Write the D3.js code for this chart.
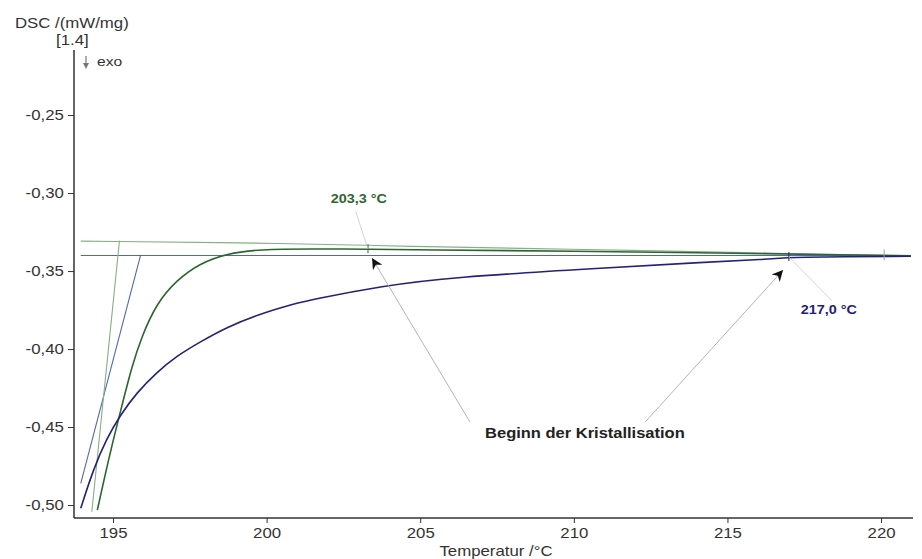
<!DOCTYPE html>
<html>
<head>
<meta charset="utf-8">
<script src="https://cdn.jsdelivr.net/npm/d3@7/dist/d3.min.js"></script>
<style>
  body { margin: 0; background: #fff; }
  svg { display: block; font-family: 'Liberation Sans', Arial, sans-serif; }
</style>
</head>
<body>
<div id="chart"></div>
<script>
const WIDTH = 922;
const HEIGHT = 559;
const STRETCH = 1.2; // the scan's text is wider than normal

// DSC curves (Temperatur / °C, DSC / (mW/mg))
const tempGreen = [194.49, 194.90, 195.28, 195.61, 195.93, 196.42, 197.07, 197.83, 198.70, 199.78, 201.41, 203.3, 205, 210, 215, 218, 220.97];
const dscGreen = [-0.5032, -0.4667, -0.4370, -0.4114, -0.3921, -0.3707, -0.3558, -0.3451, -0.3387, -0.3361, -0.3357, -0.3360, -0.3364, -0.3372, -0.3385, -0.3394, -0.3402];
const tempBlue = [193.95, 194.36, 194.79, 195.23, 195.77, 196.42, 197.07, 197.83, 198.70, 199.78, 200.87, 201.41, 203.79, 205.97, 210.85, 214.11, 216.28, 217.04, 220.97];
const dscBlue = [-0.5021, -0.4770, -0.4575, -0.4425, -0.4280, -0.4150, -0.4045, -0.3955, -0.3860, -0.3775, -0.3712, -0.3685, -0.3595, -0.3540, -0.3482, -0.3445, -0.3425, -0.3410, -0.3405];

// baselines and tangents
const tempBaseGreen = [193.95, 201.0, 204.4, 210, 215, 220.97];
const dscBaseGreen = [-0.3308, -0.3322, -0.3342, -0.3360, -0.3380, -0.3402];
const tempBaseBlue = [193.95, 220.97];
const dscBaseBlue = [-0.3400, -0.3400];
const tempTanGreen = [194.31, 195.21];
const dscTanGreen = [-0.5043, -0.3305];
const tempTanBlue = [193.95, 195.90];
const dscTanBlue = [-0.4861, -0.3397];

// onsets
const onsetTemps = [203.3, 217.0];
const onsetDsc = [-0.3360, -0.3410];
const onsetLabels = ['203,3 °C', '217,0 °C'];
const endTemp = 220.1;
const endDsc = -0.3400;

const xTicks = [195, 200, 205, 210, 215, 220];
const yTicks = [-0.25, -0.30, -0.35, -0.40, -0.45, -0.50];

const COLOR = {
  green: '#2c662c',
  blue: '#22227a',
  greenLight: '#86b086',
  blueLight: '#5466b0',
  axis: '#333',
  leader: '#c8c8c8',
};

const zip = (a, b) => a.map((v, i) => [v, b[i]]);

const x = d3.scaleLinear().domain([193.73, 221.04]).range([74, 913]);
const y = d3.scaleLinear().domain([-0.5083, -0.2083]).range([518, 50]);

const de = d3.formatLocale({decimal: ',', thousands: '.', grouping: [3], currency: ['', ' €'], minus: '-'});
const fmtY = de.format('.2f');

const svg = d3.select('#chart').append('svg')
  .attr('width', WIDTH)
  .attr('height', HEIGHT);

function text(g, px, py, str, opts) {
  opts = opts || {};
  return g.append('text')
    .attr('transform', `translate(${px},${py}) scale(${opts.stretch || STRETCH},1)`)
    .attr('text-anchor', opts.anchor || 'start')
    .attr('font-size', opts.size || 14)
    .attr('font-weight', opts.weight || 'normal')
    .attr('fill', opts.color || COLOR.axis)
    .text(str);
}

// axes
const xAxis = svg.append('g').attr('transform', `translate(0,${y.range()[0]})`);
xAxis.call(d3.axisBottom(x).tickValues(d3.range(194, 222, 1)).tickSize(3).tickSizeOuter(0).tickFormat(''));
xAxis.call(d3.axisBottom(x).tickValues(xTicks).tickSize(5).tickSizeOuter(0).tickPadding(5));
xAxis.selectAll('.tick text')
  .attr('font-size', 14)
  .attr('fill', COLOR.axis)
  .attr('transform', `scale(${STRETCH},1)`);
xAxis.selectAll('path, line').attr('stroke', COLOR.axis);
xAxis.select('.domain')
  .attr('stroke-width', 1.5)
  .attr('d', `M${x.range()[0]},0H${x.range()[1]}`);

const yAxis = svg.append('g').attr('transform', `translate(${x.range()[0]},0)`);
yAxis.call(d3.axisLeft(y).tickValues(d3.range(-0.50, -0.205, 0.01)).tickSize(3).tickSizeOuter(0).tickFormat(''));
yAxis.call(d3.axisLeft(y).tickValues(yTicks).tickSize(6).tickSizeOuter(0).tickFormat(fmtY));
yAxis.selectAll('.tick text')
  .attr('font-size', 14)
  .attr('fill', COLOR.axis)
  .attr('x', -8.5)
  .attr('transform', `scale(${STRETCH},1)`);
yAxis.selectAll('path, line').attr('stroke', COLOR.axis);
yAxis.select('.domain')
  .attr('stroke-width', 1.5)
  .attr('d', `M0,${y.range()[0]}V${y.range()[1]}`);

// axis titles
text(svg, 15, 28, 'DSC /(mW/mg)');
text(svg, 56, 45, '[1.4]');
text(svg, 97, 66, 'exo', {size: 13});
svg.append('line')
  .attr('x1', 86).attr('x2', 86).attr('y1', 56).attr('y2', 64)
  .attr('stroke', '#777').attr('stroke-width', 1.2);
svg.append('path')
  .attr('d', 'M83,63L89,63L86,69Z')
  .attr('fill', '#777');
text(svg, 496, 556, 'Temperatur /°C', {anchor: 'middle'});

const line = d3.line().x(d => x(d[0])).y(d => y(d[1]));
const smooth = d3.line().x(d => x(d[0])).y(d => y(d[1])).curve(d3.curveBasis);

const plot = svg.append('g');
plot.append('path').datum(zip(tempBaseBlue, dscBaseBlue))
  .attr('d', line).attr('fill', 'none').attr('stroke', COLOR.blueLight).attr('stroke-width', 1.1);
plot.append('path').datum(zip(tempBaseGreen, dscBaseGreen))
  .attr('d', smooth).attr('fill', 'none').attr('stroke', COLOR.greenLight).attr('stroke-width', 1.1);
plot.append('path').datum(zip(tempTanBlue, dscTanBlue))
  .attr('d', line).attr('fill', 'none').attr('stroke', COLOR.blueLight).attr('stroke-width', 1.1);
plot.append('path').datum(zip(tempTanGreen, dscTanGreen))
  .attr('d', line).attr('fill', 'none').attr('stroke', COLOR.greenLight).attr('stroke-width', 1.1);
plot.append('path').datum(zip(tempGreen, dscGreen))
  .attr('d', smooth).attr('fill', 'none').attr('stroke', COLOR.green).attr('stroke-width', 1.6);
plot.append('path').datum(zip(tempBlue, dscBlue))
  .attr('d', smooth).attr('fill', 'none').attr('stroke', COLOR.blue).attr('stroke-width', 1.6);

// onset markers
onsetTemps.forEach((t, i) => {
  plot.append('line')
    .attr('x1', x(t)).attr('x2', x(t))
    .attr('y1', y(onsetDsc[i]) - 5).attr('y2', y(onsetDsc[i]) + 4)
    .attr('stroke', i === 0 ? COLOR.green : COLOR.blue).attr('stroke-width', 1);
});
plot.append('line')
  .attr('x1', x(endTemp)).attr('x2', x(endTemp))
  .attr('y1', y(endDsc) - 6).attr('y2', y(endDsc) + 5)
  .attr('stroke', COLOR.greenLight).attr('stroke-width', 1);

// value labels with faint leaders
const labelPos = [[203.0, -0.3064], [218.3, -0.3776]];
const leaderEnd = [[202.9, -0.3118], [218.4, -0.3690]];
onsetTemps.forEach((t, i) => {
  plot.append('line')
    .attr('x1', x(t)).attr('y1', y(onsetDsc[i]))
    .attr('x2', x(leaderEnd[i][0])).attr('y2', y(leaderEnd[i][1]))
    .attr('stroke', COLOR.leader).attr('stroke-width', 0.8);
  text(plot, x(labelPos[i][0]), y(labelPos[i][1]), onsetLabels[i], {
    anchor: 'middle', size: 12, weight: 'bold', color: i === 0 ? COLOR.green : COLOR.blue,
  });
});

// "Beginn der Kristallisation" arrows
svg.append('defs').append('marker')
  .attr('id', 'head')
  .attr('viewBox', '0 0 10 10')
  .attr('refX', 10).attr('refY', 5)
  .attr('markerUnits', 'userSpaceOnUse')
  .attr('markerWidth', 16).attr('markerHeight', 11)
  .attr('orient', 'auto')
  .append('path').attr('d', 'M0,0L10,5L0,10L3,5Z').attr('fill', '#111');

const arrowFrom = [[206.62, -0.4468], [212.32, -0.4468]];
const arrowTo = [[203.43, -0.3417], [216.81, -0.3494]];
arrowFrom.forEach((f, i) => {
  svg.append('line')
    .attr('x1', x(f[0])).attr('y1', y(f[1]))
    .attr('x2', x(arrowTo[i][0])).attr('y2', y(arrowTo[i][1]))
    .attr('stroke', '#aaa').attr('stroke-width', 0.9)
    .attr('marker-end', 'url(#head)');
});
text(svg, x(210.36), y(-0.457), 'Beginn der Kristallisation', {anchor: 'middle', size: 15, weight: 'bold', stretch: 1.1, color: '#222'});
</script>
</body>
</html>
